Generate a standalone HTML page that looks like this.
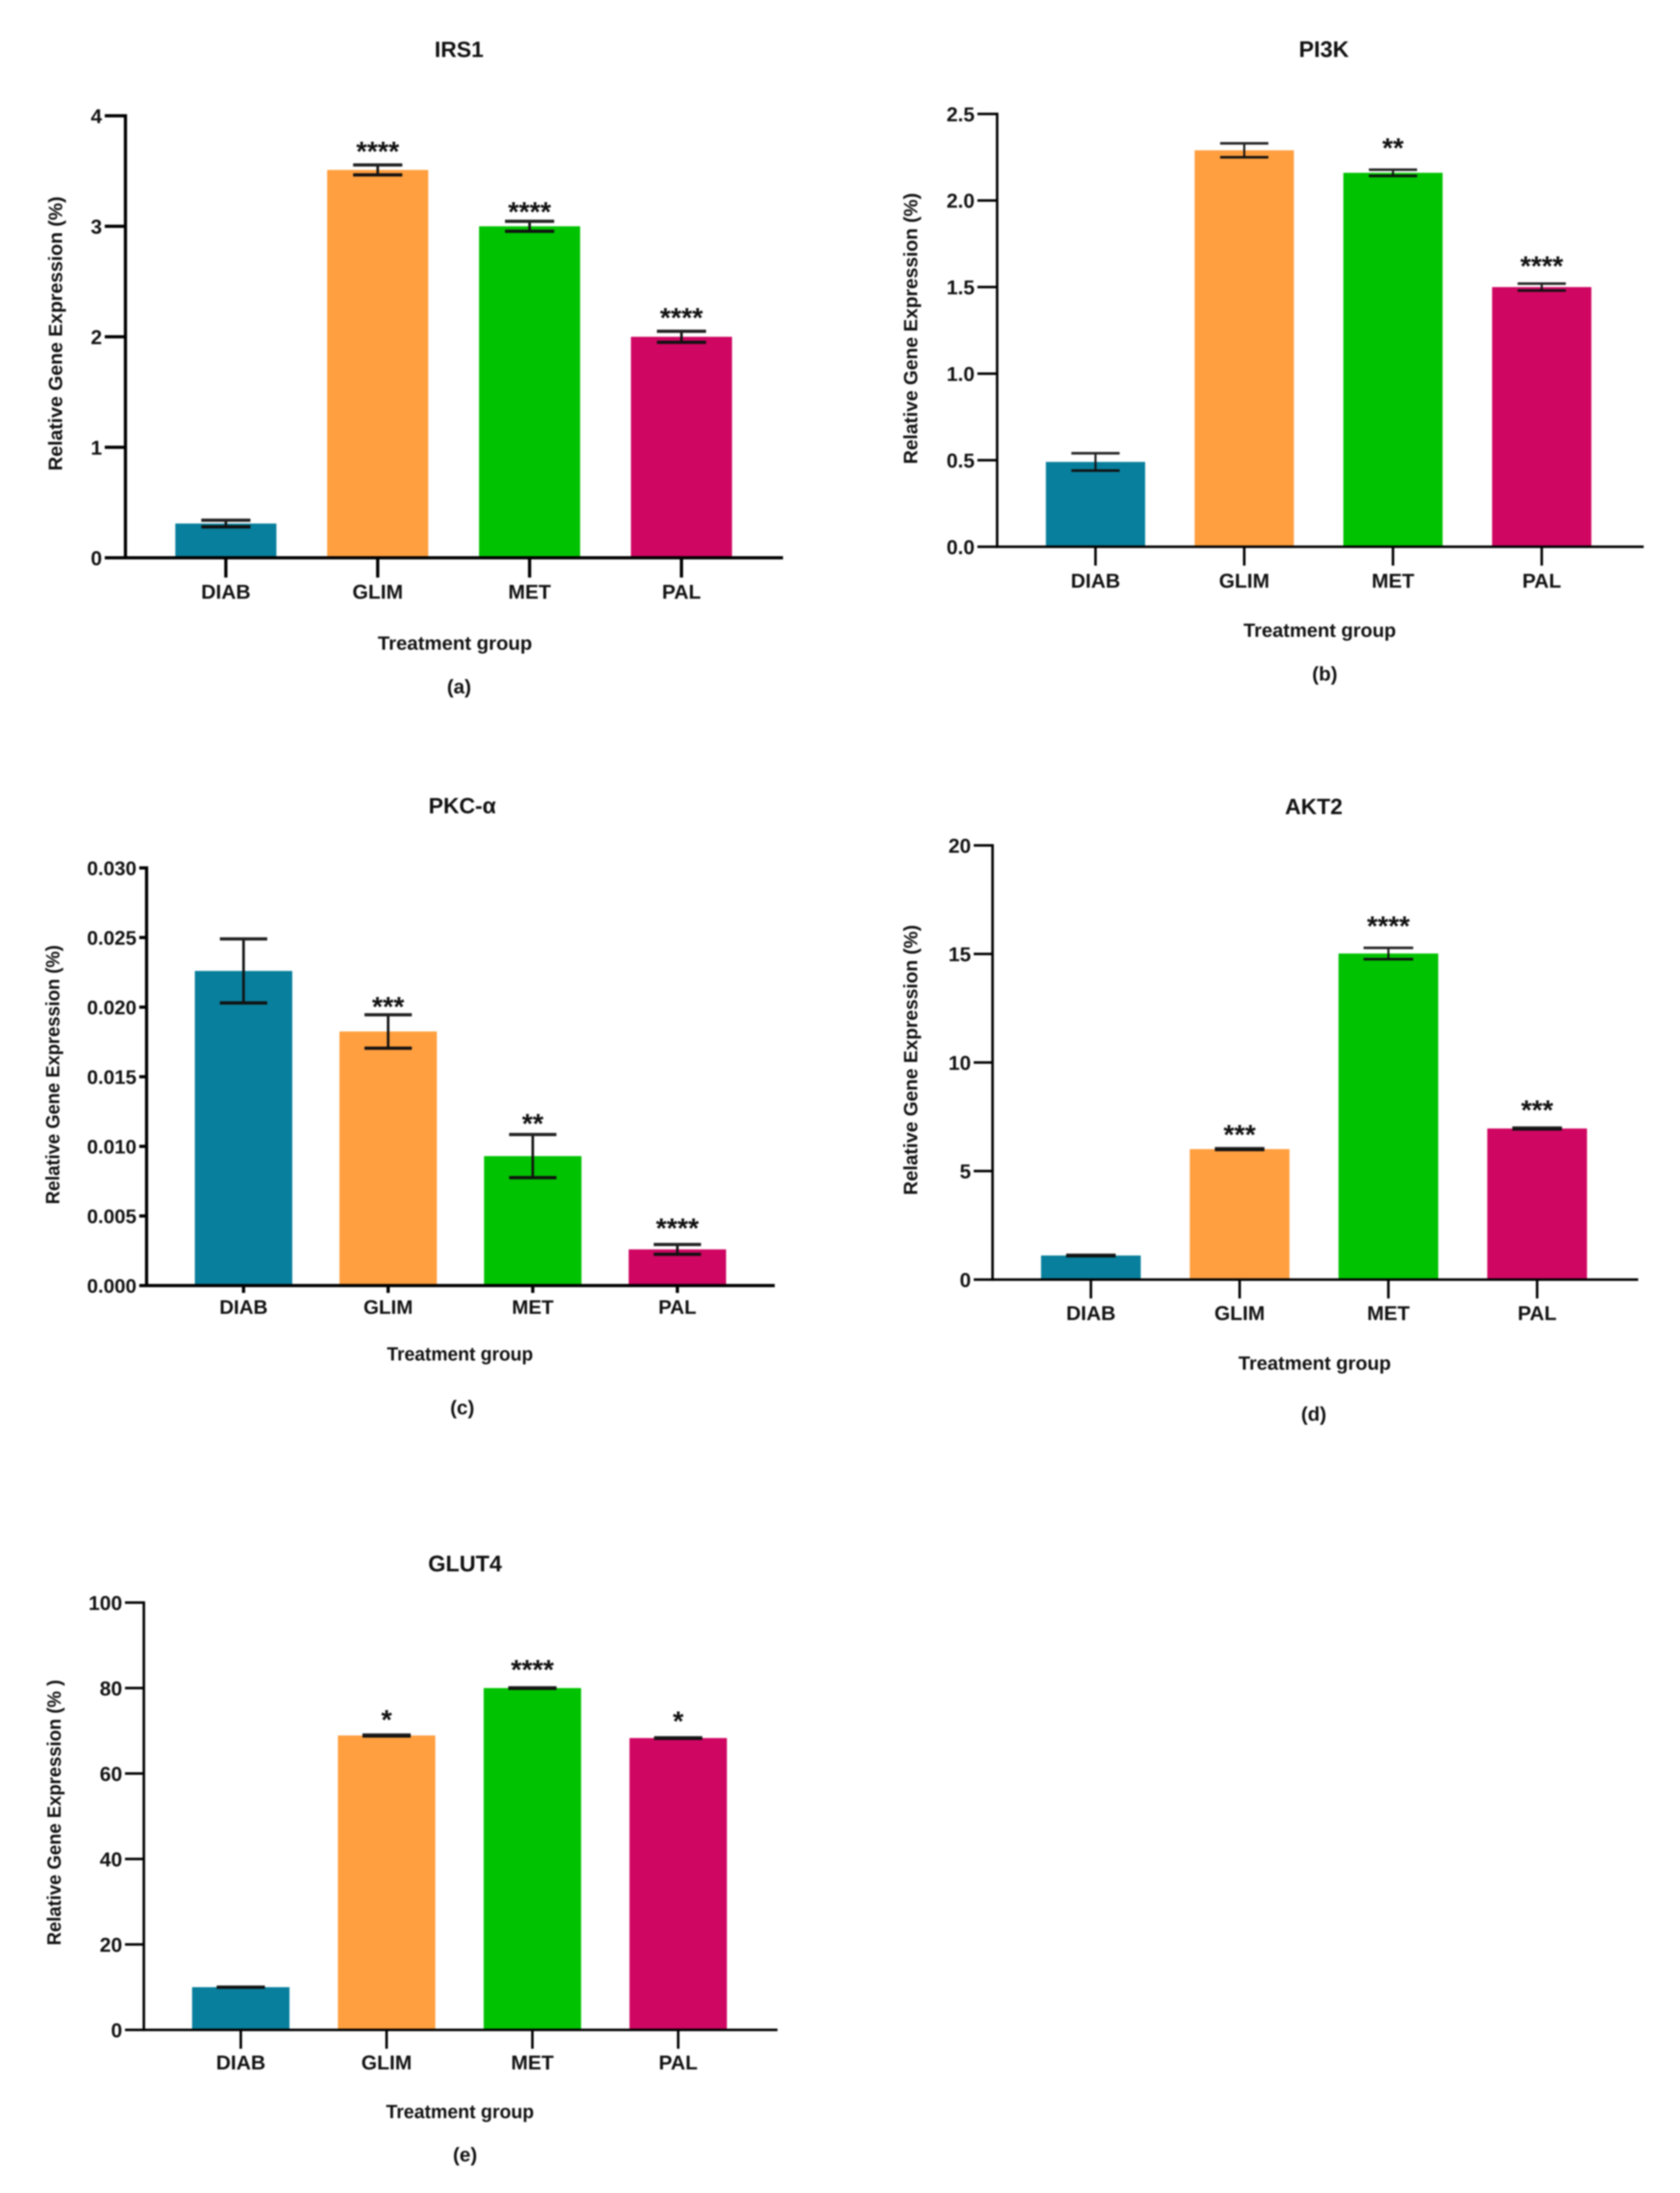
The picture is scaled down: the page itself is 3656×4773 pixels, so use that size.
<!DOCTYPE html>
<html lang="en">
<head>
<meta charset="utf-8">
<title>Relative Gene Expression Panels</title>
<style>
  html, body { margin: 0; padding: 0; background: #fff; }
  svg { display: block; filter: blur(1.5px); }
  text { font-family: "Liberation Sans", Arial, sans-serif; font-weight: 700; fill: #111; }
</style>
</head>
<body>
<svg id="figure" xmlns="http://www.w3.org/2000/svg" width="3656" height="4773" viewBox="0 0 3656 4773">
  <rect x="0" y="0" width="3656" height="4773" fill="#ffffff"/>

  <g id="panel-a">
    <text x="999" y="124" font-size="48" text-anchor="middle">IRS1</text>
    <text transform="translate(135,726) rotate(-90)" font-size="42" text-anchor="middle" textLength="597" lengthAdjust="spacingAndGlyphs">Relative Gene Expression (%)</text>
    <text x="990" y="1414" font-size="42" text-anchor="middle" textLength="336" lengthAdjust="spacingAndGlyphs">Treatment group</text>
    <text x="999" y="1509" font-size="43" text-anchor="middle">(a)</text>
  </g>

  <g id="panel-b">
    <text x="2881" y="124" font-size="49" text-anchor="middle">PI3K</text>
    <text transform="translate(1996,715) rotate(-90)" font-size="42" text-anchor="middle" textLength="590" lengthAdjust="spacingAndGlyphs">Relative Gene Expression (%)</text>
    <text x="2872" y="1386" font-size="42" text-anchor="middle" textLength="332" lengthAdjust="spacingAndGlyphs">Treatment group</text>
    <text x="2883" y="1481" font-size="43" text-anchor="middle">(b)</text>
  </g>

  <g id="panel-c">
    <text x="1006" y="1770" font-size="48" text-anchor="middle">PKC-α</text>
    <text transform="translate(129,2339) rotate(-90)" font-size="42" text-anchor="middle" textLength="564" lengthAdjust="spacingAndGlyphs">Relative Gene Expression (%)</text>
    <text x="1001" y="2961" font-size="42" text-anchor="middle" textLength="318" lengthAdjust="spacingAndGlyphs">Treatment group</text>
    <text x="1006" y="3078" font-size="43" text-anchor="middle">(c)</text>
  </g>

  <g id="panel-d">
    <text x="2859" y="1772" font-size="48" text-anchor="middle">AKT2</text>
    <text transform="translate(1996,2307) rotate(-90)" font-size="42" text-anchor="middle" textLength="588" lengthAdjust="spacingAndGlyphs">Relative Gene Expression (%)</text>
    <text x="2861" y="2981" font-size="42" text-anchor="middle" textLength="332" lengthAdjust="spacingAndGlyphs">Treatment group</text>
    <text x="2859" y="3092" font-size="43" text-anchor="middle">(d)</text>
  </g>

  <g id="panel-e">
    <text x="1012" y="3420" font-size="49" text-anchor="middle">GLUT4</text>
    <text transform="translate(132,3945) rotate(-90)" font-size="42" text-anchor="middle" textLength="578" lengthAdjust="spacingAndGlyphs">Relative Gene Expression (% )</text>
    <text x="1001" y="4610" font-size="42" text-anchor="middle" textLength="322" lengthAdjust="spacingAndGlyphs">Treatment group</text>
    <text x="1012" y="4704" font-size="43" text-anchor="middle">(e)</text>
  </g>
</svg>

<script>
// ---- Data ----
const categories = ['DIAB', 'GLIM', 'MET', 'PAL'];

const irs1Values = [0.31, 3.51, 3.0, 2.0];
const irs1Errors = [0.03, 0.045, 0.045, 0.05];
const irs1Stars = ['', '****', '****', '****'];
const irs1Ticks = [0, 1, 2, 3, 4];
const irs1TickLabels = ['0', '1', '2', '3', '4'];

const pi3kValues = [0.49, 2.29, 2.16, 1.5];
const pi3kErrors = [0.05, 0.04, 0.018, 0.02];
const pi3kStars = ['', '', '**', '****'];
const pi3kTicks = [0, 0.5, 1, 1.5, 2, 2.5];
const pi3kTickLabels = ['0.0', '0.5', '1.0', '1.5', '2.0', '2.5'];

const pkcValues = [0.0226, 0.01825, 0.0093, 0.0026];
const pkcErrors = [0.0023, 0.0012, 0.00155, 0.00035];
const pkcStars = ['', '***', '**', '****'];
const pkcTicks = [0, 0.005, 0.01, 0.015, 0.02, 0.025, 0.03];
const pkcTickLabels = ['0.000', '0.005', '0.010', '0.015', '0.020', '0.025', '0.030'];

const akt2Values = [1.11, 6.01, 15.02, 6.96];
const akt2Errors = [0.03, 0.04, 0.26, 0.04];
const akt2Stars = ['', '***', '****', '***'];
const akt2Ticks = [0, 5, 10, 15, 20];
const akt2TickLabels = ['0', '5', '10', '15', '20'];

const glut4Values = [10, 68.9, 80, 68.3];
const glut4Errors = [0.1, 0.2, 0.15, 0.15];
const glut4Stars = ['', '*', '****', '*'];
const glut4Ticks = [0, 20, 40, 60, 80, 100];
const glut4TickLabels = ['0', '20', '40', '60', '80', '100'];

const barColors = ['#087f9c', '#ff9f3f', '#00c200', '#cf0662'];

// ---- Panel geometry ----
const layoutA = { id: 'panel-a', key: 'irs1', axisX: 273, baseY: 1214, topY: 252, rightX: 1704, tickLeft: 228, tickDown: 43, firstX: 491.5, stepX: 330.5, barW: 220, capW: 107, sw: 7, labelY: 1287, tickFont: 44, starGap: 46, starNudge: [0, 3, 12, 3] };
const layoutB = { id: 'panel-b', key: 'pi3k', axisX: 2170, baseY: 1190, topY: 248, rightX: 3577, tickLeft: 2127, tickDown: 41, firstX: 2384, stepX: 323.7, barW: 216, capW: 105, sw: 5.5, labelY: 1263, tickFont: 44, starGap: 46, starNudge: [0, 0, -15, -6] };
const layoutC = { id: 'panel-c', key: 'pkc-alpha', axisX: 319, baseY: 2798, topY: 1889, rightX: 1686, tickLeft: 303, tickDown: 16, firstX: 530, stepX: 314.7, barW: 212, capW: 103, sw: 7, labelY: 2844, tickFont: 43, starGap: 46, starNudge: [0, 15, 9, -3] };
const layoutD = { id: 'panel-d', key: 'akt2', axisX: 2160, baseY: 2785, topY: 1840, rightX: 3565, tickLeft: 2119, tickDown: 41, firstX: 2374, stepX: 323.7, barW: 217, capW: 108, sw: 5.5, labelY: 2857, tickFont: 44, starGap: 46, starNudge: [0, 3, -15, -6] };
const layoutE = { id: 'panel-e', key: 'glut4', axisX: 313, baseY: 4418, topY: 3488, rightX: 1692, tickLeft: 272, tickDown: 41, firstX: 524, stepX: 317.3, barW: 212, capW: 105, sw: 5.5, labelY: 4488, tickFont: 44, starGap: 46, starNudge: [0, 0, -6, -3] };

const NS = 'http://www.w3.org/2000/svg';

function makeLine(parent, x1, y1, x2, y2, width, color) {
  const el = document.createElementNS(NS, 'line');
  el.setAttribute('x1', x1);
  el.setAttribute('y1', y1);
  el.setAttribute('x2', x2);
  el.setAttribute('y2', y2);
  el.setAttribute('stroke', color);
  el.setAttribute('stroke-width', width);
  parent.appendChild(el);
  return el;
}

function makeText(parent, x, y, size, anchor, content) {
  const el = document.createElementNS(NS, 'text');
  el.setAttribute('x', x);
  el.setAttribute('y', y);
  el.setAttribute('font-size', size);
  el.setAttribute('text-anchor', anchor);
  el.textContent = content;
  parent.appendChild(el);
  return el;
}

function drawPanel(layout, yMax, values, errors, stars, ticks, tickLabels) {
  const group = document.getElementById(layout.id);
  const yScale = function (v) { return layout.baseY - (v / yMax) * (layout.baseY - layout.topY); };
  const xScale = function (i) { return layout.firstX + i * layout.stepX; };

  // bars first so axes and error bars overlay them
  values.forEach(function (value, i) {
    const bar = document.createElementNS(NS, 'rect');
    bar.setAttribute('x', xScale(i) - layout.barW / 2);
    bar.setAttribute('y', yScale(value));
    bar.setAttribute('width', layout.barW);
    bar.setAttribute('height', layout.baseY - yScale(value));
    bar.setAttribute('fill', barColors[i]);
    
    
    group.appendChild(bar);
  });

  // y axis
  const yAxis = makeLine(group, layout.axisX, layout.topY - layout.sw / 2, layout.axisX, layout.baseY + layout.sw / 2, layout.sw, '#000');
  
  

  // x axis
  const xAxis = makeLine(group, layout.axisX, layout.baseY, layout.rightX, layout.baseY, layout.sw, '#000');
  
  

  // y ticks and labels
  ticks.forEach(function (tick, i) {
    const mark = makeLine(group, layout.tickLeft, yScale(tick), layout.axisX, yScale(tick), layout.sw, '#000');
    
    
    const label = makeText(group, layout.tickLeft - 6, yScale(tick) + layout.tickFont * 0.36, layout.tickFont, 'end', tickLabels[i]);
    
    
  });

  // x ticks, labels, error bars, significance stars
  categories.forEach(function (category, i) {
    const cx = xScale(i);
    const mark = makeLine(group, cx, layout.baseY, cx, layout.baseY + layout.tickDown, layout.sw, '#000');
    
    

    const label = makeText(group, cx, layout.labelY + layout.tickFont * 0.36, layout.tickFont, 'middle', category);
    
    

    const hi = yScale(values[i] + errors[i]);
    const lo = yScale(values[i] - errors[i]);
    const stem = makeLine(group, cx, hi, cx, lo, layout.sw * 0.8, '#111');
    
    
    const capTop = makeLine(group, cx - layout.capW / 2, hi, cx + layout.capW / 2, hi, layout.sw, '#222');
    
    
    const capBottom = makeLine(group, cx - layout.capW / 2, lo, cx + layout.capW / 2, lo, layout.sw, '#111');
    
    

    if (stars[i]) {
      const star = makeText(group, cx, hi - layout.starGap + 34 + layout.starNudge[i], 60, 'middle', stars[i]);
      
      
    }
  });
}

drawPanel(layoutA, 4, irs1Values, irs1Errors, irs1Stars, irs1Ticks, irs1TickLabels);
drawPanel(layoutB, 2.5, pi3kValues, pi3kErrors, pi3kStars, pi3kTicks, pi3kTickLabels);
drawPanel(layoutC, 0.03, pkcValues, pkcErrors, pkcStars, pkcTicks, pkcTickLabels);
drawPanel(layoutD, 20, akt2Values, akt2Errors, akt2Stars, akt2Ticks, akt2TickLabels);
drawPanel(layoutE, 100, glut4Values, glut4Errors, glut4Stars, glut4Ticks, glut4TickLabels);
</script>
</body>
</html>
